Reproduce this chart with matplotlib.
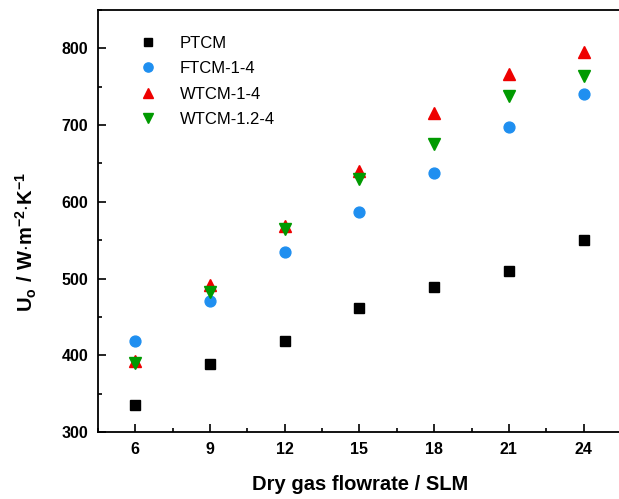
import numpy as np
import matplotlib.pyplot as plt
from matplotlib.ticker import MultipleLocator

plt.rcParams['font.family'] = 'Liberation Sans'
plt.rcParams['mathtext.fontset'] = 'custom'
plt.rcParams['mathtext.bf'] = 'Liberation Sans:bold'
plt.rcParams['mathtext.rm'] = 'Liberation Sans'

flow = [6, 9, 12, 15, 18, 21, 24]
ptcm = [335, 388, 418, 461, 489, 510, 550]
ftcm_1_4 = [419, 471, 535, 587, 637, 697, 740]
wtcm_1_4 = [393, 491, 568, 640, 716, 767, 795]
wtcm_12_4 = [390, 483, 564, 630, 676, 738, 764]

fig = plt.figure(figsize=(6.19, 4.99), dpi=100)
ax = fig.add_axes([98 / 619, 1 - 432 / 499, (621 - 98) / 619, (432 - 10) / 499])

ax.plot(flow, ptcm, 's', color='black', ms=7.5, label='PTCM')
ax.plot(flow, ftcm_1_4, 'o', color='#1f8ff0', ms=7.8, label='FTCM-1-4')
ax.plot(flow, wtcm_1_4, '^', color='#ee0000', ms=8.5, label='WTCM-1-4')
ax.plot(flow, wtcm_12_4, 'v', color='#009a00', ms=8.5, label='WTCM-1.2-4')

ax.set_xlim(4.5, 25.5)
ax.set_ylim(300, 850)
ax.set_xticks(flow)
ax.set_yticks([300, 400, 500, 600, 700, 800])
ax.xaxis.set_minor_locator(MultipleLocator(1.5))
ax.yaxis.set_minor_locator(MultipleLocator(50))
ax.tick_params(which='major', direction='in', length=6, width=1.2, labelsize=11.5, pad=7)
ax.tick_params(which='minor', direction='in', length=3, width=1.2)
ax.tick_params(top=False, right=False, which='both')
for lab in ax.get_xticklabels() + ax.get_yticklabels():
    lab.set_fontweight('bold')
for s in ax.spines.values():
    s.set_linewidth(1.3)

ax.set_xlabel('Dry gas flowrate / SLM', fontsize=14.5, fontweight='bold')
ax.set_ylabel(r'$\mathbf{U_o\ /\ W{\cdot}m^{-2}{\cdot}K^{-1}}$', fontsize=14.5)
ax.xaxis.set_label_coords(0.502, -0.102)
ax.yaxis.set_label_coords(-0.112, 0.45)

ax.legend(loc='upper left', bbox_to_anchor=(0.035, 0.975), frameon=False, fontsize=12,
          handletextpad=0.9, labelspacing=0.63, markerscale=0.85)

fig.savefig('out.png', dpi=100)
